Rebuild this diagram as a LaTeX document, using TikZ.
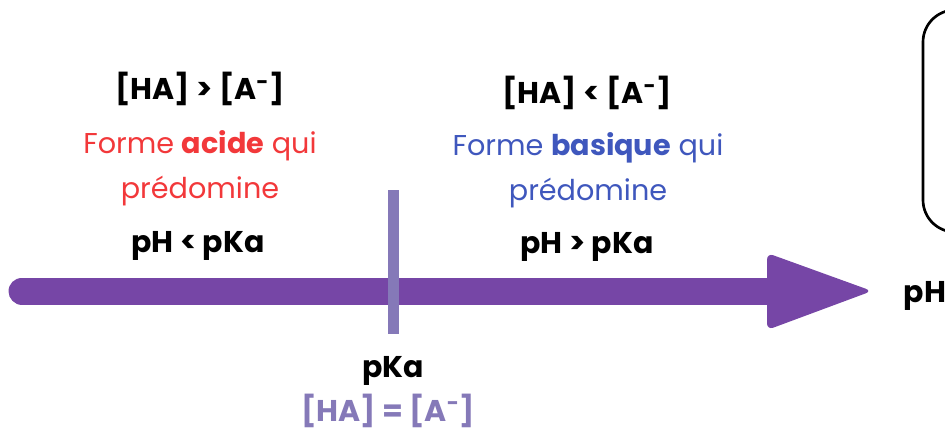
\documentclass[tikz,border=0pt]{standalone}
\usepackage{fontspec}
\usepackage{xcolor}
\setmainfont{Poppins}
\definecolor{axis}{HTML}{7646A6}
\definecolor{tick}{HTML}{8579B8}
\definecolor{acid}{HTML}{F2383A}
\definecolor{base}{HTML}{3F57BD}
\newcommand{\anion}{[A\textsuperscript{-}]}

\begin{document}
\begin{tikzpicture}[x=0.75pt, y=-0.75pt,
  big/.style={font=\fontsize{22.5}{26}\selectfont\bfseries},
  txt/.style={font=\fontsize{21.5}{34}\selectfont, align=center}]
\useasboundingbox (0,0) rectangle (945,432);

\def\axisy{291}

\draw[black, line width=2pt, rounded corners=24] (923,10) rectangle (1000,232);

\coordinate (start) at (22,\axisy);
\coordinate (base) at (775,\axisy);
\draw[axis, line width=20.25pt, line cap=round] (start) -- (base);
\fill[axis, rounded corners=5] (767,253) -- (872,\axisy) -- (767,330) -- cycle;
\coordinate (tip) at (872,\axisy);

\coordinate (ktop) at (393.5,190);
\coordinate (kbot) at (393.5,334);
\draw[tick, line width=8.25pt] (ktop) -- (kbot);

\node[big, anchor=base west] (ph) at (899,302) {pH};

\node[big] (accmp) at (200,89) {[HA] > \anion};
\node[txt, text=acid] (acform) at (200,168) {Forme \textbf{acide} qui\\prédomine};
\node[big, anchor=base] (acph) at (198,252) {pH < pKa};

\node[big] (bacmp) at (587,93) {[HA] < \anion};
\node[txt, text=base] (baform) at (588,170) {Forme \textbf{basique} qui\\prédomine};
\node[big, anchor=base] (baph) at (587,253) {pH > pKa};

\node[big, anchor=base] (pka) at (393,377) {pKa};
\node[big, anchor=base, text=tick] (eq) at (388,421) {[HA] = \anion};

\end{tikzpicture}
\end{document}
